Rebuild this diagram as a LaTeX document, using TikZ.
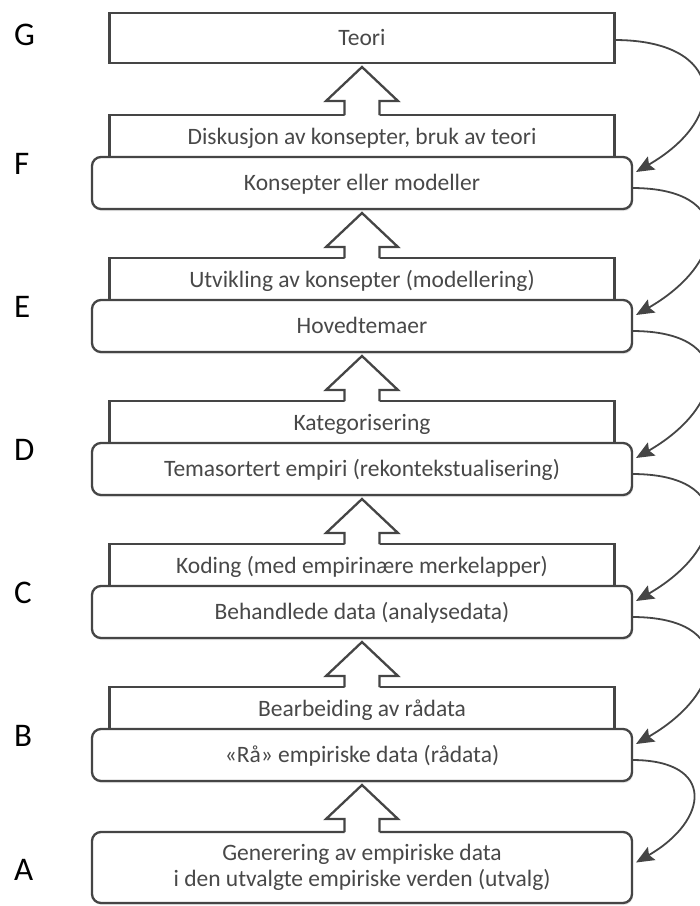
\documentclass[tikz,border=0pt]{standalone}
\usepackage{fontspec}
\setmainfont{Carlito}
\usetikzlibrary{arrows.meta,shadows}
\definecolor{boxline}{HTML}{454545}
\definecolor{boxtext}{HTML}{484848}

\begin{document}
\begin{tikzpicture}[x=1pt, y=1pt,
		level/.style={anchor=west, inner sep=0pt, font=\fontsize{33}{36}\selectfont},
		stepbox/.style={draw=boxline, line width=2.3pt, fill=white, minimum width=505pt, inner sep=0pt, outer sep=0pt, text=boxtext, text height=17pt, text depth=3pt, font=\fontsize{23.5}{26}\selectfont},
		stagebox/.style={stepbox, rounded corners=9pt, minimum width=540pt, minimum height=52pt, drop shadow={shadow xshift=1pt, shadow yshift=-2pt, opacity=0.2}},
		uparrow/.style={draw=boxline, line width=2.3pt, line join=miter},
		feedback/.style={draw=boxline, line width=1.8pt, -{Stealth[length=18pt, width=15pt, inset=3pt]}, looseness=2.1}]
	  \useasboundingbox (0,0) rectangle (700,-906);

	  \node[level] (lG) at (14,-35) {G};
	  \node[level] (lF) at (14,-164) {F};
	  \node[level] (lE) at (14,-307) {E};
	  \node[level] (lD) at (14,-450) {D};
	  \node[level] (lC) at (14,-593) {C};
	  \node[level] (lB) at (14,-736) {B};
	  \node[level] (lA) at (14,-870) {A};

	  \node[stepbox, minimum height=50pt] (G) at (362,-38) {Teori};

	  \node[stepbox, minimum height=44pt] (Fs) at (362,-137) {Diskusjon av konsepter, bruk av teori};
	  \node[stagebox] (F) at (362,-183) {Konsepter eller modeller};

	  \node[stepbox, minimum height=44pt] (Es) at (362,-280) {Utvikling av konsepter (modellering)};
	  \node[stagebox] (E) at (362,-326) {Hovedtemaer};

	  \node[stepbox, minimum height=44pt] (Ds) at (362,-423) {Kategorisering};
	  \node[stagebox] (D) at (362,-469) {Temasortert empiri (rekontekstualisering)};

	  \node[stepbox, minimum height=44pt] (Cs) at (362,-566) {Koding (med empirinære merkelapper)};
	  \node[stagebox] (C) at (362,-612) {Behandlede data (analysedata)};

	  \node[stepbox, minimum height=44pt] (Bs) at (362,-709) {Bearbeiding av rådata};
	  \node[stagebox] (B) at (362,-755) {«Rå» empiriske data (rådata)};

	  \node[stagebox, minimum height=71pt, align=center, text height=, text depth=, font=\fontsize{23.5}{26}\selectfont] (A) at (362,-867.5) {Generering av empiriske data\\i den utvalgte empiriske verden (utvalg)};

	  \foreach \hi/\lo in {G/Fs, F/Es, E/Ds, D/Cs, C/Bs, B/A} {
		  \fill[white] ([xshift=-17.5pt, yshift=-2pt]\lo.north) |- ([xshift=-36pt, yshift=-38pt]\hi.south) -- ([yshift=-4pt]\hi.south) -- ([xshift=36pt, yshift=-38pt]\hi.south) -| ([xshift=17.5pt, yshift=-2pt]\lo.north) -- cycle;
		  \draw[uparrow] ([xshift=-17.5pt]\lo.north) |- ([xshift=-36pt, yshift=-38pt]\hi.south) -- ([yshift=-4pt]\hi.south) -- ([xshift=36pt, yshift=-38pt]\hi.south) -| ([xshift=17.5pt]\lo.north);
	  }

	  \draw[feedback] ([yshift=-2pt]G.east) to[out=0, in=30] ([xshift=4pt, yshift=11pt]F.east);
	  \draw[feedback] ([yshift=-5pt]F.east) to[out=0, in=30] ([xshift=4pt, yshift=11pt]E.east);
	  \draw[feedback] ([yshift=-5pt]E.east) to[out=0, in=30] ([xshift=4pt, yshift=11pt]D.east);
	  \draw[feedback] ([yshift=-5pt]D.east) to[out=0, in=30] ([xshift=4pt, yshift=11pt]C.east);
	  \draw[feedback] ([yshift=-5pt]C.east) to[out=0, in=30] ([xshift=4pt, yshift=11pt]B.east);
	  \draw[feedback] ([yshift=-5pt]B.east) to[out=0, in=30] ([xshift=4pt, yshift=5pt]A.east);
	  \end{tikzpicture}
\end{document}
